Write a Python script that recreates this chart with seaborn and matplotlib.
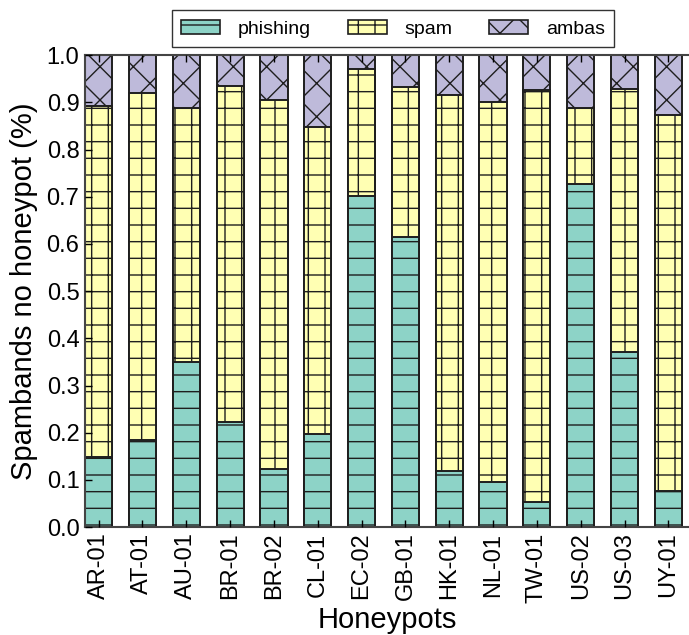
import matplotlib
matplotlib.use("Agg")
import matplotlib.pyplot as plt
import seaborn as sns
import pandas as pd
import numpy as np
from matplotlib.patches import Patch

honeypots = ["AR-01", "AT-01", "AU-01", "BR-01", "BR-02", "CL-01", "EC-02",
             "GB-01", "HK-01", "NL-01", "TW-01", "US-02", "US-03", "UY-01"]
phishing = [0.149, 0.185, 0.350, 0.222, 0.124, 0.197, 0.701,
            0.614, 0.118, 0.096, 0.053, 0.727, 0.371, 0.076]
spam = [0.743, 0.736, 0.538, 0.712, 0.781, 0.650, 0.269,
        0.318, 0.797, 0.804, 0.873, 0.161, 0.558, 0.797]
ambas = [0.108, 0.079, 0.112, 0.066, 0.095, 0.153, 0.030,
         0.068, 0.085, 0.100, 0.074, 0.112, 0.071, 0.127]

series = ["phishing", "spam", "ambas"]
colors = {"phishing": "#8dd3c7", "spam": "#ffffb3", "ambas": "#bebada"}
hatches = {"phishing": "-", "spam": "+", "ambas": "x"}

df = pd.DataFrame({"honeypot": honeypots, "phishing": phishing,
                   "spam": spam, "ambas": ambas})
df["top_phishing"] = df["phishing"]
df["top_spam"] = df["phishing"] + df["spam"]
df["top_ambas"] = df["top_spam"] + df["ambas"]

sns.set_style("ticks")
plt.rcParams["font.family"] = ["Liberation Sans", "DejaVu Sans"]
plt.rcParams["hatch.linewidth"] = 1.0
plt.rcParams["hatch.color"] = "black"
plt.rcParams["axes.axisbelow"] = False
for k in ["text.color", "axes.labelcolor", "xtick.color", "ytick.color"]:
    plt.rcParams[k] = "black"

fig = plt.figure(figsize=(6.89, 6.35), dpi=100)
ax = fig.add_axes([0.1234, 0.170, 0.8766, 0.743])

edge = "#1e1e1e"
# draw back-to-front: cumulative tops
for s in ["ambas", "spam", "phishing"]:
    sns.barplot(data=df, x="honeypot", y="top_" + s, ax=ax, color=colors[s],
                saturation=1, width=0.62, edgecolor=edge, linewidth=1.4,
                hatch=hatches[s], errorbar=None)

ax.set_axisbelow(False)
ax.set_xlim(-0.31, 13.47)
ax.set_ylim(0, 1.0)
ax.set_yticks(np.arange(0, 1.01, 0.1))
ax.set_yticklabels([f"{v:.1f}" for v in np.arange(0, 1.01, 0.1)], fontsize=17)
ax.set_xticks(range(len(honeypots)))
ax.set_xticklabels(honeypots, rotation=90, fontsize=17)
ax.tick_params(axis="both", direction="in", length=5, width=1, top=True, right=False,
               color="black", pad=4)
ax.set_xlabel("Honeypots", fontsize=21, labelpad=2)
ax.set_ylabel("Spambands no honeypot (%)", fontsize=21, labelpad=6)
for sp in ["left", "bottom", "top"]:
    ax.spines[sp].set_linewidth(1.5)
    ax.spines[sp].set_color("#444444")
ax.spines["right"].set_visible(False)

handles = [Patch(facecolor=colors[s], edgecolor=edge, hatch=hatches[s],
                 linewidth=1.2, label=s) for s in series]
leg = ax.legend(handles=handles, loc="lower center", bbox_to_anchor=(0.51, 1.017),
                borderaxespad=0, ncol=3, fontsize=14, frameon=True, fancybox=False,
                handlelength=2.0, handleheight=0.7, columnspacing=1.9,
                handletextpad=0.9, borderpad=0.5, edgecolor="black")
leg.get_frame().set_linewidth(1.0)

fig.savefig("out.png", dpi=100)
